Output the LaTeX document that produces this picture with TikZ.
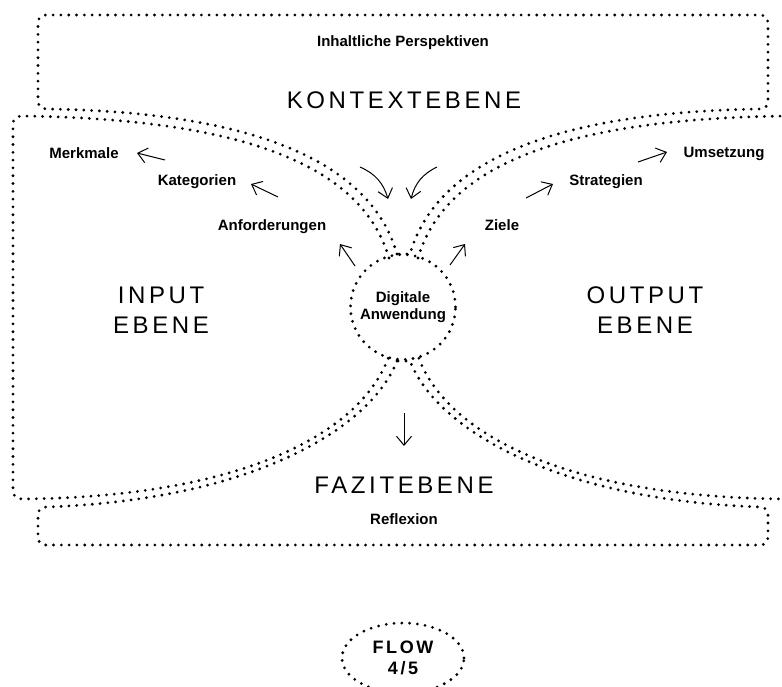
\documentclass[tikz,border=0pt]{standalone}
\usepackage{fontspec}
\setmainfont{Liberation Sans}
\newfontfamily\ebenefont[LetterSpace=15]{Liberation Sans}
\newfontfamily\flowfont[LetterSpace=14]{Liberation Sans}
\usetikzlibrary{arrows.meta,shapes.geometric}

\begin{document}
\begin{tikzpicture}
		[
		x=1pt, y=-1pt, >={Straight Barb[length=9pt,width=15pt]},
		font=\fontsize{15}{17}\selectfont\bfseries,
		%Punktlinien der Ebenen
		punkte/.style={line width=3.1pt, line cap=round, dash pattern=on 0pt off 7.8pt},
		ebene/.style={font=\ebenefont\fontsize{24}{30}\selectfont, align=center, anchor=base, inner sep=0pt},
		begriff/.style={anchor=base, inner sep=0pt},
		pfeil/.style={->, line width=1pt}
		]
		
		\useasboundingbox (0,0) rectangle (782,686);
		\clip (0,0) rectangle (782,686);
		
		%Kontextebene
		\draw[punkte] (397,254) .. controls (370,160) and (250,112) .. (47,109)
		.. controls (41,109) and (38,106) .. (38,100) -- (38,23)
		.. controls (38,18) and (41,15) .. (46,15) -- (760,15)
		.. controls (765,15) and (768,18) .. (768,23) -- (768,100)
		.. controls (768,106) and (765,109) .. (760,109)
		.. controls (557,112) and (437,160) .. (410,254) -- cycle;
		
		%Inputebene
		\draw[punkte] (389,258) .. controls (362,166) and (245,119) .. (22,116)
		.. controls (16,116) and (13,119) .. (13,125) -- (13,490)
		.. controls (13,496) and (16,499) .. (22,499)
		.. controls (245,497) and (362,432) .. (389,356);
		
		%Outputebene
		\draw[punkte] (418,258) .. controls (445,166) and (562,119) .. (785,116)
		.. controls (791,116) and (794,119) .. (794,125) -- (794,490)
		.. controls (794,496) and (791,499) .. (785,499)
		.. controls (562,497) and (445,432) .. (418,356);
		
		%Fazitebene
		\draw[punkte] (397,361) .. controls (370,430) and (250,500) .. (46,507)
		.. controls (41,507) and (38,510) .. (38,515) -- (38,537)
		.. controls (38,542) and (41,545) .. (46,545) -- (760,545)
		.. controls (765,545) and (768,542) .. (768,537) -- (768,515)
		.. controls (768,510) and (765,507) .. (760,507)
		.. controls (557,500) and (437,430) .. (410,361) -- cycle;
		
		%Mitte
		\node[punkte, draw, circle, minimum size=105pt, inner sep=0pt, align=center] (app) at (403,307) {Digitale\\Anwendung};
		
		%Ebenen
		\node[ebene] (kontext) at (404,108) {KONTEXTEBENE};
		\node[ebene] (input) at (161,333) {INPUT\\EBENE};
		\node[ebene] (output) at (645,333) {OUTPUT\\EBENE};
		\node[ebene] (fazit) at (404,493) {FAZITEBENE};
		
		%Begriffe
		\node[begriff] (perspektiven) at (403,46) {Inhaltliche Perspektiven};
		\node[begriff] (merkmale) at (84,158) {Merkmale};
		\node[begriff] (kategorien) at (197,185) {Kategorien};
		\node[begriff] (anforderungen) at (272,230) {Anforderungen};
		\node[begriff] (ziele) at (502,230) {Ziele};
		\node[begriff] (strategien) at (606,185) {Strategien};
		\node[begriff] (umsetzung) at (724,157) {Umsetzung};
		\node[begriff] (reflexion) at (404,524) {Reflexion};
		
		%Pfeile
		\coordinate (m1) at (165,160); \coordinate (m2) at (137,153);
		\coordinate (k1) at (278,197); \coordinate (k2) at (251,184);
		\coordinate (a1) at (355,266); \coordinate (a2) at (340,244);
		\coordinate (z1) at (450,265); \coordinate (z2) at (465,244);
		\coordinate (s1) at (526,198); \coordinate (s2) at (553,184);
		\coordinate (u1) at (638,162); \coordinate (u2) at (667,152);
		\coordinate (l1) at (360,167); \coordinate (l2) at (388,199);
		\coordinate (r1) at (437,167); \coordinate (r2) at (411,199);
		\coordinate (f1) at (404,413); \coordinate (f2) at (404,446);
		\draw[pfeil] (m1) -- (m2);
		\draw[pfeil] (k1) -- (k2);
		\draw[pfeil] (a1) -- (a2);
		\draw[pfeil] (z1) -- (z2);
		\draw[pfeil] (s1) -- (s2);
		\draw[pfeil] (u1) -- (u2);
		\draw[pfeil] (l1) to[bend left=25] (l2);
		\draw[pfeil] (r1) to[bend right=25] (r2);
		\draw[pfeil] (f1) -- (f2);
		
		%Flow
		\node[punkte, draw, ellipse, minimum width=122pt, minimum height=70pt, inner sep=0pt,
		align=center, font=\flowfont\fontsize{18}{21}\selectfont\bfseries] (flow) at (403,658) {FLOW\\4/5};
	\end{tikzpicture}
\end{document}
